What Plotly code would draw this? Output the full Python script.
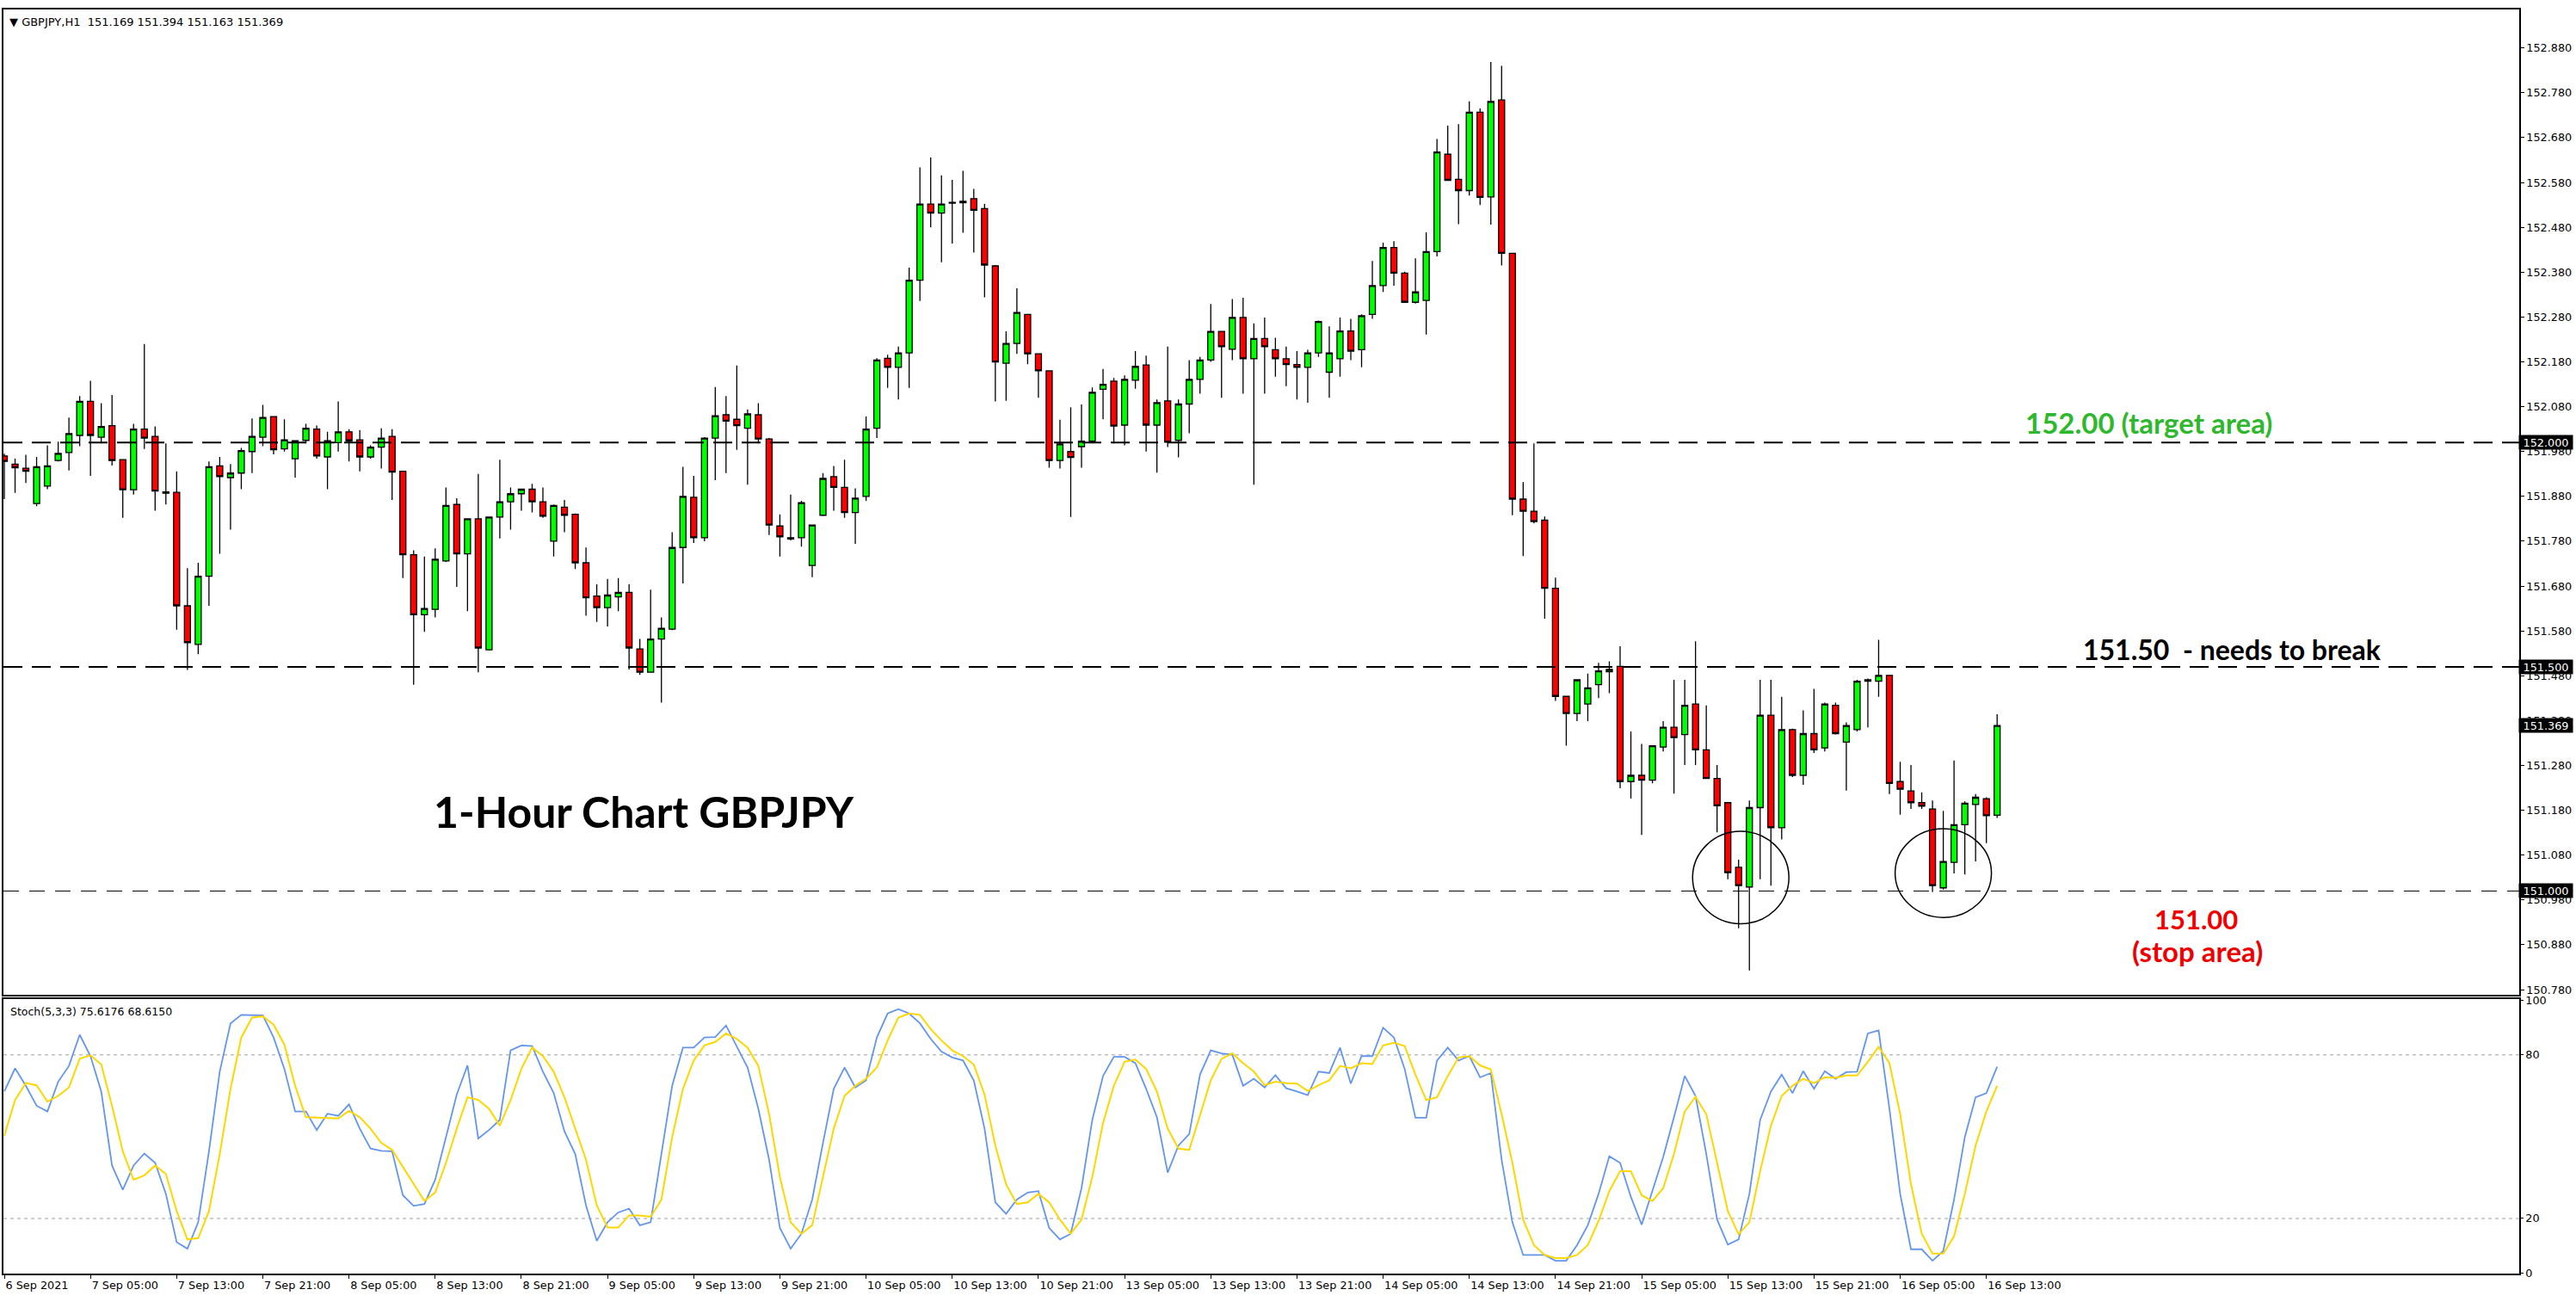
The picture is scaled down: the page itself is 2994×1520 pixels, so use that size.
import plotly.graph_objects as go

# ---------------- data ----------------
time_labels = ["6 Sep 2021", "7 Sep 05:00", "7 Sep 13:00", "7 Sep 21:00", "8 Sep 05:00", "8 Sep 13:00",
               "8 Sep 21:00", "9 Sep 05:00", "9 Sep 13:00", "9 Sep 21:00", "10 Sep 05:00", "10 Sep 13:00",
               "10 Sep 21:00", "13 Sep 05:00", "13 Sep 13:00", "13 Sep 21:00", "14 Sep 05:00", "14 Sep 13:00",
               "14 Sep 21:00", "15 Sep 05:00", "15 Sep 13:00", "15 Sep 21:00", "16 Sep 05:00", "16 Sep 13:00"]
label_bars = [0, 8, 16, 24, 32, 40, 48, 56, 64, 72, 80, 88, 96, 104, 112, 120, 128, 136, 144, 152, 160, 168, 176, 184]

price_ticks = [150.78, 150.88, 150.98, 151.08, 151.18, 151.28, 151.38, 151.48, 151.58, 151.68, 151.78,
               151.88, 151.98, 152.08, 152.18, 152.28, 152.38, 152.48, 152.58, 152.68, 152.78, 152.88]
stoch_ticks = [0, 20, 80, 100]
stoch_levels = [20, 80]
key_levels = [152.000, 151.500, 151.000]
last_price = 151.369

open_ = [151.970, 151.952, 151.943, 151.864, 151.903, 151.960, 151.978, 152.016, 152.092, 152.012,
         152.038, 151.962, 151.895, 152.030, 152.014, 151.890, 151.889, 151.636, 151.550, 151.702,
         151.948, 151.922, 151.932, 151.980, 152.012, 152.058, 151.986, 151.964, 152.005, 152.030,
         151.968, 152.000, 152.024, 152.006, 151.968, 151.990, 152.014, 151.936, 151.750, 151.616,
         151.628, 151.736, 151.862, 151.752, 151.830, 151.538, 151.834, 151.868, 151.886, 151.896,
         151.868, 151.780, 151.856, 151.840, 151.732, 151.658, 151.632, 151.656, 151.666, 151.540,
         151.488, 151.562, 151.584, 151.766, 151.878, 151.788, 152.010, 152.062, 152.052, 152.032,
         152.062, 152.008, 151.814, 151.788, 151.788, 151.726, 151.838, 151.924, 151.900, 151.844,
         151.880, 152.032, 152.188, 152.168, 152.200, 152.362, 152.532, 152.512, 152.536, 152.538,
         152.544, 152.522, 152.394, 152.177, 152.221, 152.286, 152.198, 152.160, 151.960, 151.980,
         151.991, 152.003, 152.119, 152.137, 152.039, 152.139, 152.173, 152.039, 152.093, 152.005,
         152.086, 152.141, 152.184, 152.248, 152.208, 152.279, 152.187, 152.232, 152.207, 152.187,
         152.174, 152.168, 152.200, 152.157, 152.187, 152.249, 152.207, 152.286, 152.350, 152.435,
         152.378, 152.313, 152.317, 152.426, 152.643, 152.587, 152.562, 152.737, 152.548, 152.764,
         152.422, 151.874, 151.847, 151.827, 151.675, 151.434, 151.396, 151.417, 151.460, 151.489,
         151.501, 151.244, 151.258, 151.247, 151.321, 151.365, 151.349, 151.417, 151.315, 151.251,
         151.197, 151.053, 151.009, 151.186, 151.392, 151.141, 151.360, 151.258, 151.351, 151.319,
         151.414, 151.332, 151.360, 151.468, 151.468, 151.481, 151.244, 151.223, 151.197, 151.183,
         151.007, 151.064, 151.148, 151.193, 151.206, 151.169]
high = [151.975, 151.964, 151.973, 151.968, 151.994, 152.002, 152.056, 152.104, 152.138, 152.088,
        152.106, 151.962, 152.042, 152.220, 152.036, 151.998, 151.936, 151.720, 151.732, 151.958,
        151.968, 151.952, 151.988, 152.054, 152.084, 152.058, 152.052, 152.004, 152.042, 152.038,
        152.024, 152.092, 152.030, 152.028, 151.994, 152.032, 152.030, 151.936, 151.760, 151.746,
        151.764, 151.900, 151.876, 151.830, 151.930, 151.834, 151.962, 151.900, 151.896, 151.908,
        151.900, 151.862, 151.872, 151.842, 151.766, 151.684, 151.696, 151.698, 151.684, 151.562,
        151.672, 151.610, 151.800, 151.946, 151.926, 152.012, 152.124, 152.104, 152.172, 152.074,
        152.088, 152.010, 151.840, 151.884, 151.870, 151.816, 151.932, 151.948, 151.962, 151.898,
        152.058, 152.188, 152.196, 152.214, 152.390, 152.614, 152.636, 152.596, 152.586, 152.606,
        152.566, 152.532, 152.396, 152.248, 152.344, 152.286, 152.198, 152.160, 152.051, 152.079,
        152.085, 152.123, 152.164, 152.144, 152.150, 152.204, 152.194, 152.096, 152.214, 152.096,
        152.184, 152.191, 152.309, 152.248, 152.320, 152.323, 152.266, 152.279, 152.234, 152.214,
        152.204, 152.207, 152.272, 152.259, 152.279, 152.276, 152.286, 152.405, 152.446, 152.449,
        152.381, 152.411, 152.469, 152.677, 152.707, 152.710, 152.761, 152.745, 152.849, 152.840,
        152.422, 151.912, 151.998, 151.835, 151.699, 151.434, 151.471, 151.485, 151.509, 151.512,
        151.546, 151.356, 151.328, 151.324, 151.379, 151.471, 151.471, 151.557, 151.414, 151.281,
        151.197, 151.070, 151.202, 151.471, 151.471, 151.433, 151.362, 151.403, 151.451, 151.420,
        151.420, 151.376, 151.471, 151.474, 151.560, 151.481, 151.288, 151.281, 151.220, 151.202,
        151.179, 151.291, 151.200, 151.216, 151.209, 151.394]
low = [151.874, 151.888, 151.910, 151.858, 151.896, 151.958, 151.938, 151.992, 151.926, 151.998,
       151.949, 151.832, 151.884, 151.986, 151.848, 151.862, 151.583, 151.493, 151.528, 151.636,
       151.752, 151.806, 151.896, 151.932, 151.992, 151.974, 151.980, 151.922, 151.998, 151.964,
       151.896, 151.980, 151.958, 151.936, 151.964, 151.942, 151.872, 151.698, 151.460, 151.578,
       151.610, 151.734, 151.678, 151.624, 151.488, 151.536, 151.786, 151.806, 151.848, 151.844,
       151.832, 151.746, 151.800, 151.718, 151.614, 151.600, 151.590, 151.624, 151.494, 151.482,
       151.488, 151.420, 151.582, 151.686, 151.776, 151.780, 151.916, 151.932, 151.984, 151.906,
       151.998, 151.794, 151.746, 151.782, 151.768, 151.700, 151.836, 151.848, 151.832, 151.774,
       151.870, 152.010, 152.122, 152.096, 152.122, 152.316, 152.480, 152.402, 152.444, 152.468,
       152.424, 152.324, 152.092, 152.093, 152.198, 152.175, 152.100, 151.944, 151.942, 151.834,
       151.944, 151.998, 152.052, 151.998, 151.994, 152.120, 151.980, 151.933, 151.990, 151.967,
       152.021, 152.109, 152.180, 152.100, 152.184, 152.109, 151.906, 152.109, 152.147, 152.126,
       152.096, 152.089, 152.191, 152.100, 152.147, 152.184, 152.168, 152.276, 152.336, 152.350,
       152.313, 152.310, 152.241, 152.415, 152.585, 152.487, 152.551, 152.530, 152.486, 152.395,
       151.838, 151.747, 151.820, 151.607, 151.424, 151.324, 151.379, 151.379, 151.430, 151.441,
       151.229, 151.206, 151.125, 151.240, 151.311, 151.217, 151.281, 151.281, 151.251, 151.131,
       151.026, 150.917, 150.823, 151.026, 151.012, 151.115, 151.254, 151.237, 151.308, 151.311,
       151.349, 151.224, 151.356, 151.365, 151.433, 151.216, 151.170, 151.183, 151.183, 150.998,
       151.003, 151.039, 151.037, 151.066, 151.107, 151.163]
close = [151.958, 151.944, 151.936, 151.946, 151.948, 151.976, 152.020, 152.092, 152.016, 152.036,
         151.960, 151.895, 152.030, 152.010, 151.892, 151.887, 151.636, 151.554, 151.702, 151.946,
         151.924, 151.932, 151.982, 152.014, 152.056, 151.984, 152.006, 152.004, 152.032, 151.970,
         152.004, 152.024, 152.004, 151.968, 151.990, 152.010, 151.934, 151.750, 151.616, 151.630,
         151.740, 151.860, 151.752, 151.830, 151.542, 151.834, 151.868, 151.886, 151.896, 151.868,
         151.836, 151.860, 151.838, 151.732, 151.654, 151.632, 151.660, 151.666, 151.542, 151.488,
         151.562, 151.586, 151.766, 151.880, 151.788, 152.010, 152.060, 152.048, 152.038, 152.064,
         152.008, 151.816, 151.790, 151.785, 151.866, 151.816, 151.920, 151.900, 151.844, 151.876,
         152.030, 152.184, 152.168, 152.200, 152.362, 152.532, 152.512, 152.532, 152.534, 152.535,
         152.518, 152.396, 152.180, 152.221, 152.290, 152.198, 152.160, 151.960, 151.997, 151.967,
         152.003, 152.112, 152.130, 152.037, 152.141, 152.170, 152.039, 152.089, 152.001, 152.086,
         152.141, 152.184, 152.248, 152.214, 152.279, 152.187, 152.232, 152.214, 152.187, 152.174,
         152.168, 152.200, 152.270, 152.200, 152.249, 152.204, 152.283, 152.350, 152.435, 152.378,
         152.313, 152.336, 152.426, 152.648, 152.585, 152.562, 152.737, 152.547, 152.761, 152.422,
         151.874, 151.847, 151.824, 151.675, 151.434, 151.396, 151.471, 151.453, 151.491, 151.494,
         151.244, 151.258, 151.247, 151.324, 151.365, 151.342, 151.414, 151.315, 151.251, 151.190,
         151.041, 151.012, 151.186, 151.392, 151.141, 151.360, 151.258, 151.351, 151.315, 151.417,
         151.351, 151.369, 151.468, 151.471, 151.481, 151.240, 151.227, 151.197, 151.189, 151.012,
         151.066, 151.148, 151.196, 151.209, 151.168, 151.369]

stoch_k = [66.5, 75.0, 68.6, 61.3, 59.2, 70.1, 75.9, 87.3, 79.5, 66.5,
           39.4, 30.5, 39.4, 43.8, 40.4, 29.0, 11.3, 8.9, 18.6, 44.6,
           73.8, 91.5, 94.6, 94.6, 94.4, 86.3, 74.8, 59.2, 59.2, 52.4,
           58.4, 57.6, 61.8, 52.9, 45.6, 44.8, 44.6, 28.5, 24.6, 25.3,
           34.2, 49.8, 65.4, 76.1, 49.3, 52.4, 56.1, 81.6, 83.4, 83.2,
           73.8, 66.0, 51.9, 43.6, 24.8, 11.8, 18.6, 22.2, 23.6, 17.5,
           18.6, 43.6, 68.6, 82.6, 82.6, 86.3, 86.5, 90.7, 83.2, 75.3,
           60.2, 41.5, 16.5, 8.9, 14.4, 26.9, 47.7, 67.5, 75.3, 68.0,
           70.6, 86.3, 95.1, 96.7, 95.1, 91.5, 85.8, 81.1, 79.0, 77.9,
           70.6, 52.9, 25.9, 21.7, 26.9, 29.5, 30.0, 16.5, 12.3, 14.4,
           31.1, 56.1, 72.2, 79.2, 79.2, 76.9, 67.5, 57.1, 36.8, 46.7,
           50.9, 72.7, 81.6, 80.5, 80.0, 68.6, 71.2, 68.0, 72.5, 67.7,
           66.5, 65.2, 73.8, 73.3, 82.6, 69.4, 79.5, 79.5, 89.9, 86.3,
           74.8, 56.9, 56.9, 77.9, 82.6, 77.9, 79.5, 71.7, 73.3, 41.5,
           18.6, 6.6, 6.6, 6.6, 4.5, 4.5, 10.2, 17.5, 29.0, 42.8,
           40.4, 27.9, 17.7, 30.0, 42.5, 57.1, 72.2, 64.9, 43.6, 19.6,
           10.4, 12.3, 29.0, 56.1, 66.5, 72.7, 65.9, 74.0, 67.5, 74.0,
           71.2, 73.6, 73.8, 87.8, 88.9, 60.2, 29.0, 8.7, 8.7, 4.5,
           8.1, 26.9, 49.8, 64.4, 65.9, 75.6]
stoch_d = [50.3, 63.4, 69.6, 68.8, 62.8, 64.9, 68.0, 78.5, 79.8, 76.4,
           61.3, 44.6, 34.2, 35.8, 39.4, 36.3, 22.7, 12.3, 12.8, 22.7,
           43.6, 67.5, 86.3, 93.6, 94.1, 91.0, 83.7, 68.6, 57.1, 56.9,
           56.6, 56.6, 59.4, 57.1, 52.9, 47.7, 45.1, 38.9, 32.6, 26.4,
           29.5, 40.4, 52.9, 64.4, 63.4, 60.2, 54.0, 63.4, 74.8, 82.6,
           79.5, 73.8, 64.4, 52.9, 41.5, 24.8, 16.7, 16.7, 21.1, 21.1,
           20.6, 26.9, 49.8, 67.5, 77.9, 83.4, 84.7, 87.8, 85.8, 82.6,
           75.9, 58.2, 35.2, 18.6, 14.4, 17.5, 35.2, 52.9, 64.9, 68.6,
           71.2, 75.3, 85.2, 93.6, 95.1, 94.6, 89.4, 85.2, 81.6, 79.5,
           76.4, 65.4, 46.7, 32.5, 25.3, 25.9, 29.0, 25.9, 19.6, 14.4,
           19.6, 35.2, 55.0, 68.6, 77.4, 78.2, 74.8, 66.5, 52.9, 45.6,
           45.1, 58.2, 70.6, 78.5, 80.5, 76.9, 73.8, 68.8, 70.1, 69.6,
           69.4, 66.7, 68.8, 70.6, 75.9, 75.0, 76.9, 76.6, 83.4, 84.4,
           83.2, 72.7, 63.4, 64.4, 72.2, 79.0, 79.5, 76.1, 74.6, 58.2,
           40.4, 19.6, 10.2, 6.6, 5.5, 5.5, 6.6, 10.2, 19.1, 30.0,
           37.3, 37.3, 28.5, 26.4, 31.1, 43.6, 59.2, 64.6, 58.2, 40.4,
           22.7, 14.2, 18.6, 37.3, 54.0, 64.9, 68.6, 71.2, 69.6, 71.7,
           71.5, 72.4, 72.4, 77.4, 82.9, 76.9, 58.2, 32.6, 14.4, 7.1,
           7.1, 13.4, 29.0, 46.7, 59.2, 68.6]

bars = list(range(len(open_)))

# ---------------- geometry (pixels) ----------------
W, H = 2994, 1520
X0, X1 = 4, 2928
MAIN_TOP, MAIN_BOT = 4, 1160
ST_TOP, ST_BOT = 1165, 1487
BAR_PX = 12.52
XR0 = -1.0 / BAR_PX
XR1 = XR0 + (X1 - X0) / BAR_PX


def px(x):
    return x / W


def py(y):
    return 1 - y / H


FONT = "DejaVu Sans"
TICK_SIZE = 12.8

fig = go.Figure()
fig.add_trace(go.Candlestick(
    x=bars, open=open_, high=high, low=low, close=close,
    increasing=dict(fillcolor="#00ff00", line=dict(color="black", width=1.3)),
    decreasing=dict(fillcolor="#ff0000", line=dict(color="black", width=1.3)),
    whiskerwidth=0, xaxis="x", yaxis="y", hoverinfo="skip", showlegend=False))
fig.add_trace(go.Scatter(x=bars, y=stoch_k, mode="lines", line=dict(color="#6495ED", width=1.8),
                         xaxis="x2", yaxis="y2", hoverinfo="skip", showlegend=False))
fig.add_trace(go.Scatter(x=bars, y=stoch_d, mode="lines", line=dict(color="#FFD700", width=2),
                         xaxis="x2", yaxis="y2", hoverinfo="skip", showlegend=False))

axis_common = dict(showgrid=False, zeroline=False, showline=True, mirror=True, linecolor="black",
                   tickcolor="black", tickfont=dict(family=FONT, size=TICK_SIZE, color="black"), fixedrange=True)

fig.update_layout(
    width=W, height=H, autosize=False, margin=dict(l=0, r=0, t=0, b=0),
    paper_bgcolor="white", plot_bgcolor="white", showlegend=False,
    boxgap=0.2, boxgroupgap=0.3,
    font=dict(family=FONT, size=TICK_SIZE, color="black"),
    xaxis=dict(domain=[px(X0), px(X1)], range=[XR0, XR1], anchor="y", showticklabels=False, ticks="",
               linewidth=2, rangeslider=dict(visible=False), **axis_common),
    xaxis2=dict(domain=[px(X0), px(X1)], range=[XR0, XR1], matches="x", anchor="y2",
                tickmode="array", tickvals=label_bars, ticktext=time_labels,
                ticks="outside", ticklen=4, ticklabelposition="outside right", linewidth=2, **axis_common),
    yaxis=dict(domain=[py(MAIN_BOT), py(MAIN_TOP)], range=[150.768, 152.966], anchor="x", side="right",
               tickmode="array", tickvals=price_ticks, ticktext=[f"{v:.3f}" for v in price_ticks],
               ticks="outside", ticklen=4, linewidth=1.5, **axis_common),
    yaxis2=dict(domain=[py(ST_BOT), py(ST_TOP)], range=[-0.3, 100.3], anchor="x2", side="right",
                tickmode="array", tickvals=stoch_ticks, ticktext=[str(v) for v in stoch_ticks],
                ticks="outside", ticklen=3, linewidth=1.5, **axis_common),
)

shapes = []
# key horizontal levels
for lvl, wdt, dash in zip(key_levels, [2, 2, 1], ["22px,11px", "22px,11px", "18px,12px"]):
    shapes.append(dict(type="line", xref="x domain", yref="y", x0=0, x1=1, y0=lvl, y1=lvl,
                       line=dict(color="black", width=wdt, dash=dash), layer="above"))
# stochastic levels
for lvl in stoch_levels:
    shapes.append(dict(type="line", xref="x2 domain", yref="y2", x0=0, x1=1, y0=lvl, y1=lvl,
                       line=dict(color="#c0c0c0", width=1.5, dash="4px,4px"), layer="below"))
# circles marking the double bottom
for cx, cy, rx, ry in [(161.2, 151.030, 4.47, 0.103), (180.0, 151.040, 4.47, 0.099)]:
    shapes.append(dict(type="circle", xref="x", yref="y", x0=cx - rx, x1=cx + rx, y0=cy - ry, y1=cy + ry,
                       line=dict(color="black", width=1.5), layer="above"))
fig.update_layout(shapes=shapes)

ann = []
ann.append(dict(xref="paper", yref="paper", x=px(9), y=py(19), xanchor="left", yanchor="middle",
                text="\u25BC GBPJPY,H1\u00a0\u00a0151.169 151.394 151.163 151.369", showarrow=False,
                font=dict(family=FONT, size=13, color="black")))
ann.append(dict(xref="paper", yref="paper", x=px(10), y=py(1179), xanchor="left", yanchor="middle",
                text="Stoch(5,3,3) 75.6176 68.6150", showarrow=False,
                font=dict(family=FONT, size=12.5, color="black")))
for v in key_levels + [last_price]:
    ann.append(dict(xref="paper", yref="y", x=px(X1 - 1), y=v, xanchor="left", yanchor="middle",
                    text=f"{v:.3f}", showarrow=False, bgcolor="black", width=60, height=14, borderpad=1,
                    font=dict(family=FONT, size=TICK_SIZE, color="white")))
BIG = "Lato"
ann.append(dict(xref="paper", yref="paper", x=px(748), y=py(945), xanchor="center", yanchor="middle",
                text="<b>1-Hour Chart GBPJPY</b>", showarrow=False, font=dict(family=BIG, size=50, color="black")))
ann.append(dict(xref="paper", yref="paper", x=px(2497), y=py(489), xanchor="center", yanchor="middle",
                text="<b>152.00 (target area)</b>", showarrow=False, font=dict(family=BIG, size=33, color="#2eb82e")))
ann.append(dict(xref="paper", yref="paper", x=px(2594), y=py(754), xanchor="center", yanchor="middle",
                text="<b>151.50\u00a0\u00a0- needs to break</b>", showarrow=False, font=dict(family=BIG, size=32, color="black")))
ann.append(dict(xref="paper", yref="paper", x=px(2552), y=py(1071), xanchor="center", yanchor="middle",
                text="<b>151.00</b>", showarrow=False, font=dict(family=BIG, size=31, color="#ee0000")))
ann.append(dict(xref="paper", yref="paper", x=px(2554), y=py(1108), xanchor="center", yanchor="middle",
                text="<b>(stop area)</b>", showarrow=False, font=dict(family=BIG, size=33, color="#ee0000")))
fig.update_layout(annotations=ann)

fig.write_html("out.html")
